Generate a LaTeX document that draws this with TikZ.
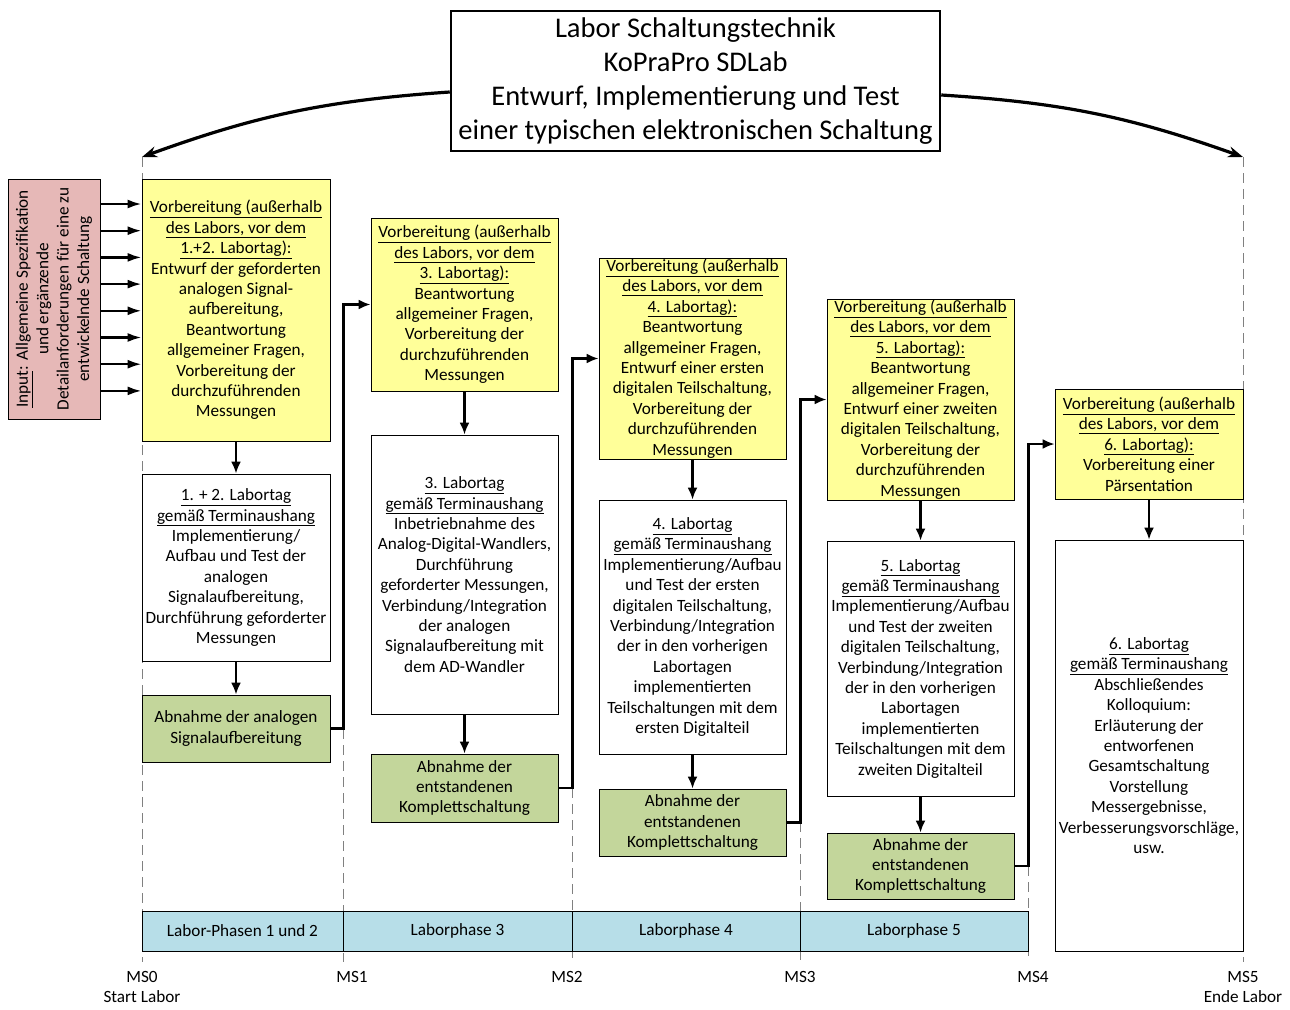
\documentclass[tikz,border=0pt]{standalone}
\usepackage{fontspec}
\setmainfont{Carlito}
\usetikzlibrary{arrows.meta, positioning, calc}

\definecolor{prepyellow}{HTML}{FFFF99}
\definecolor{acceptgreen}{HTML}{C3D69B}
\definecolor{phaseblue}{HTML}{B7DEE8}
\definecolor{inputpink}{HTML}{E6B8B7}

\newcommand{\bodyfont}{\fontsize{17.2}{20.4}\selectfont}
\newcommand{\titlefont}{\fontsize{28.5}{34}\selectfont}

\tikzset{
    box/.style={draw, line width=0.8pt, align=center, inner xsep=1pt, inner ysep=0pt,
        minimum width=188pt, font=\bodyfont},
    prep/.style={box, fill=prepyellow},
    labday/.style={box, fill=white},
    accept/.style={box, fill=acceptgreen},
    phase/.style={draw, line width=0.8pt, fill=phaseblue, minimum height=40pt, font=\bodyfont},
    flow/.style={-{Latex[length=12pt,width=10pt]}, line width=2.2pt},
    feed/.style={-{Latex[length=14pt,width=9pt]}, line width=2.4pt},
    bow/.style={-{Stealth[length=15pt,width=11pt]}, line width=3.2pt},
    milestone/.style={draw=gray, dash pattern=on 10pt off 6pt, line width=0.7pt},
    mslabel/.style={align=center, font=\bodyfont, inner sep=0pt}
}

\begin{document}
\begin{tikzpicture}[x=1pt, y=-1pt]
    \useasboundingbox[fill=white] (0,0) rectangle (1290,1009);
    % milestone lines
    \foreach \i/\x/\top in {0/142/157,1/343/729,2/572/788,3/800/822,4/1028/866,5/1243/157}{
        \coordinate (ms\i) at (\x,\top);
        \draw[milestone] (ms\i) -- (\x,962);
    }
    % title
    \node[draw, line width=2.5pt, minimum width=489pt, minimum height=140pt, align=center,
        font=\titlefont, inner sep=0pt] (title) at (695.5,81)
        {Labor Schaltungstechnik\\KoPraPro SDLab\\Entwurf, Implementierung und Test\\einer typischen elektronischen Schaltung};
    \draw[bow] ([yshift=-11pt]title.west) to[bend right=8] (ms0);
    \draw[bow] ([yshift=-14pt]title.east) to[bend left=8] (ms5);
    % input
    \node[draw, line width=0.8pt, fill=inputpink, minimum width=92pt, minimum height=240pt] (input) at (54,299) {};
    \node[rotate=90, align=center, font=\bodyfont, inner sep=0pt] (inputtext) at (input.center)
        {\underline{Input}: Allgemeine Spezifikation\\und ergänzende\\Detailanforderungen für eine zu\\entwickelnde Schaltung};
    % column 1
    \node[prep, minimum height=262pt] (prep1) at (236,310)
        {\underline{Vorbereitung (außerhalb}\\\underline{des Labors, vor dem}\\\underline{1.+2. Labortag):}\\
         Entwurf der geforderten\\analogen Signal-\\aufbereitung,\\Beantwortung\\allgemeiner Fragen,\\
         Vorbereitung der\\durchzuführenden\\Messungen};
    \node[labday, minimum height=187pt] (day1) at (236,567.5)
        {\underline{1. + 2. Labortag}\\\underline{gemäß Terminaushang}\\Implementierung/\\Aufbau und Test der\\
         analogen\\Signalaufbereitung,\\Durchführung geforderter\\Messungen};
    \node[accept, minimum height=67pt] (acc1) at (236,728.5)
        {Abnahme der analogen\\Signalaufbereitung};
    % column 2
    \node[prep, minimum width=187pt, minimum height=173pt] (prep2) at (464.5,304.5)
        {\underline{Vorbereitung (außerhalb}\\\underline{des Labors, vor dem}\\\underline{3. Labortag):}\\
         Beantwortung\\allgemeiner Fragen,\\Vorbereitung der\\durchzuführenden\\Messungen};
    \node[labday, minimum width=187pt, minimum height=279pt] (day2) at (464.5,574.5)
        {\underline{3. Labortag}\\\underline{gemäß Terminaushang}\\Inbetriebnahme des\\Analog-Digital-Wandlers,\\
         Durchführung\\geforderter Messungen,\\Verbindung/Integration\\der analogen\\
         Signalaufbereitung mit\\dem AD-Wandler};
    \node[accept, minimum width=187pt, minimum height=68pt] (acc2) at (464.5,788)
        {Abnahme der\\entstandenen\\Komplettschaltung};
    % column 3
    \node[prep, minimum width=187pt, minimum height=201pt] (prep3) at (692.5,358.5)
        {\underline{Vorbereitung (außerhalb}\\\underline{des Labors, vor dem}\\\underline{4. Labortag):}\\
         Beantwortung\\allgemeiner Fragen,\\Entwurf einer ersten\\digitalen Teilschaltung,\\
         Vorbereitung der\\durchzuführenden\\Messungen};
    \node[labday, minimum width=187pt, minimum height=254pt] (day3) at (692.5,627)
        {\underline{4. Labortag}\\\underline{gemäß Terminaushang}\\Implementierung/Aufbau\\und Test der ersten\\
         digitalen Teilschaltung,\\Verbindung/Integration\\der in den vorherigen\\Labortagen\\
         implementierten\\Teilschaltungen mit dem\\ersten Digitalteil};
    \node[accept, minimum width=187pt, minimum height=67pt] (acc3) at (692.5,822.5)
        {Abnahme der\\entstandenen\\Komplettschaltung};
    % column 4
    \node[prep, minimum width=187pt, minimum height=201pt] (prep4) at (920.5,399.5)
        {\underline{Vorbereitung (außerhalb}\\\underline{des Labors, vor dem}\\\underline{5. Labortag):}\\
         Beantwortung\\allgemeiner Fragen,\\Entwurf einer zweiten\\digitalen Teilschaltung,\\
         Vorbereitung der\\durchzuführenden\\Messungen};
    \node[labday, minimum width=187pt, minimum height=255pt] (day4) at (920.5,668.5)
        {\underline{5. Labortag}\\\underline{gemäß Terminaushang}\\Implementierung/Aufbau\\und Test der zweiten\\
         digitalen Teilschaltung,\\Verbindung/Integration\\der in den vorherigen\\Labortagen\\
         implementierten\\Teilschaltungen mit dem\\zweiten Digitalteil};
    \node[accept, minimum width=187pt, minimum height=66pt] (acc4) at (920.5,866)
        {Abnahme der\\entstandenen\\Komplettschaltung};
    % column 5
    \node[prep, minimum height=110pt] (prep5) at (1149,444)
        {\underline{Vorbereitung (außerhalb}\\\underline{des Labors, vor dem}\\\underline{6. Labortag):}\\
         Vorbereitung einer\\Pärsentation};
    \node[labday, minimum height=411pt] (day5) at (1149,745.5)
        {\underline{6. Labortag}\\\underline{gemäß Terminaushang}\\Abschließendes\\Kolloquium:\\
         Erläuterung der\\entworfenen\\Gesamtschaltung\\Vorstellung\\Messergebnisse,\\
         Verbesserungsvorschläge,\\usw.};
    % input arrows
    \foreach \k in {0,...,7}{
        \pgfmathsetmacro{\yy}{204+26.7*\k}
        \draw[feed] (input.east |- 0,\yy) -- (prep1.west |- 0,\yy);
    }
    % flow inside the columns
    \foreach \c in {1,...,4}{
        \draw[flow] (prep\c) -- (day\c);
        \draw[flow] (day\c) -- (acc\c);
    }
    \draw[flow] (prep5) -- (day5);
    % from acceptance to next preparation
    \draw[flow] (acc1.east) -- ++(13,0) |- (prep2.west);
    \draw[flow] (acc2.east) -- ++(14,0) |- (prep3.west);
    \draw[flow] (acc3.east) -- ++(14,0) |- (prep4.west);
    \draw[flow] (acc4.east) -- ++(14,0) |- (prep5.west);
    % phases
    \node[phase, minimum width=201pt] (phase1) at (242.5,931) {Labor-Phasen 1 und 2};
    \node[phase, minimum width=229pt] (phase2) at (457.5,931) {Laborphase 3};
    \node[phase, minimum width=228pt] (phase3) at (686,931) {Laborphase 4};
    \node[phase, minimum width=228pt] (phase4) at (914,931) {Laborphase 5};
    % milestone labels
    \node[mslabel, anchor=north] (lab0) at (142,971) {MS0\\Start Labor};
    \node[mslabel, anchor=north] (lab1) at (352,971) {MS1};
    \node[mslabel, anchor=north] (lab2) at (567,971) {MS2};
    \node[mslabel, anchor=north] (lab3) at (800,971) {MS3};
    \node[mslabel, anchor=north] (lab4) at (1033,971) {MS4};
    \node[mslabel, anchor=north] (lab5) at (1243,971) {MS5\\Ende Labor};
\end{tikzpicture}
\end{document}
